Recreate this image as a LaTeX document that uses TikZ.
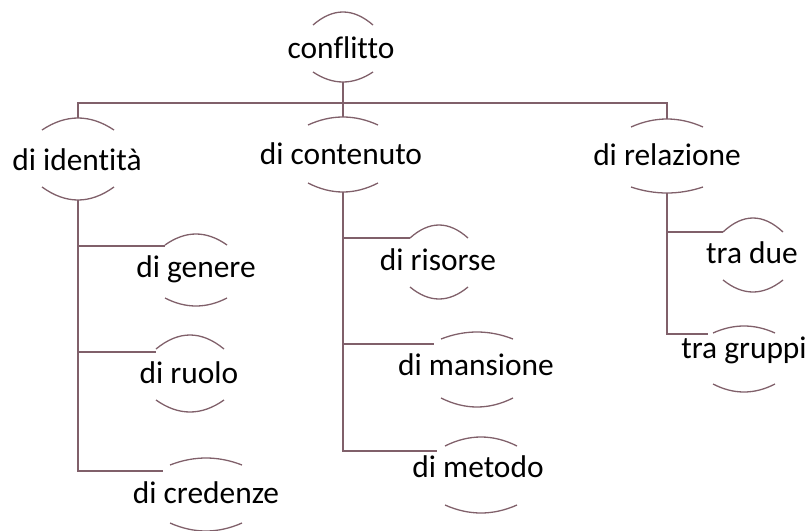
\documentclass[tikz,border=0pt]{standalone}
\usepackage{fontspec}
\setmainfont{Carlito}[Ligatures=NoCommon]
\usetikzlibrary{positioning}

\definecolor{linkcol}{RGB}{128,96,106}

% one pair of arcs round a label: name, centre x, half width, top, top ends, bottom ends, bottom
\newcommand{\lens}[7]{%
	\draw[lensline] ({#2-#3},#5) .. controls ({#2-#3/3},{#5+4/3*(#4-#5)}) and ({#2+#3/3},{#5+4/3*(#4-#5)}) .. ({#2+#3},#5);
	\draw[lensline] ({#2-#3},#6) .. controls ({#2-#3/3},{#6+4/3*(#7-#6)}) and ({#2+#3/3},{#6+4/3*(#7-#6)}) .. ({#2+#3},#6);
	\coordinate (#1-top) at (#2,#4);
	\coordinate (#1-bot) at (#2,#7);
}

\begin{document}
\begin{tikzpicture}[x=1pt, y=-1pt,
	lensline/.style={line width=1.3pt, linkcol},
	link/.style={line width=1.3pt, linkcol},
	concept/.style={anchor=base, inner sep=0pt, font=\fontsize{31.4}{36}\selectfont}]
	
	\useasboundingbox (0,0) rectangle (811,530);
	
	% root
	\node[concept] (conflitto) at (341,58) {conflitto};
	\lens{conflitto}{343}{30}{12}{25}{72}{82}
	
	% first level
	\node[concept] (identita)  at (77,170)  {di identità};
	\node[concept] (contenuto) at (341,164) {di contenuto};
	\node[concept] (relazione) at (667,165) {di relazione};
	\lens{identita}{78}{36}{118}{130}{187}{200}
	\lens{contenuto}{343}{35}{117}{125}{183}{192}
	\lens{relazione}{667}{36}{119}{127}{187}{193}
	
	% second level, left
	\node[concept] (genere)   at (196,277) {di genere};
	\node[concept] (ruolo)    at (189,383) {di ruolo};
	\node[concept] (credenze) at (206,503) {di credenze};
	\lens{genere}{196}{31}{234}{245}{298}{306}
	\lens{ruolo}{190}{34}{335}{349}{400}{412}
	\lens{credenze}{206}{36}{458}{465}{523}{531}
	
	% second level, middle
	\node[concept] (risorse)  at (438,270) {di risorse};
	\node[concept] (mansione) at (476,375) {di mansione};
	\node[concept] (metodo)   at (478,477) {di metodo};
	\lens{risorse}{439}{29}{225}{238}{287}{299}
	\lens{mansione}{477}{36}{332}{339}{398}{407}
	\lens{metodo}{481}{36}{437}{446}{505}{513}
	
	% second level, right
	\node[concept] (tradue)    at (752,263) {tra due};
	\node[concept] (tragruppi) at (744,358) {tra gruppi};
	\lens{tradue}{753}{30}{218}{232}{280}{292}
	\lens{tragruppi}{744}{31}{326}{333}{384}{392}
	
	% where the branches end
	\coordinate (bus) at (343,103);
	\coordinate (genere-in)    at (165,246);
	\coordinate (ruolo-in)     at (156,352);
	\coordinate (credenze-in)  at (163,471);
	\coordinate (risorse-in)   at (410,238);
	\coordinate (mansione-in)  at (434,344);
	\coordinate (metodo-in)    at (437,451);
	\coordinate (tradue-in)    at (723,232);
	\coordinate (tragruppi-in) at (708,334);
	
	% connectors
	\draw[link] (conflitto-bot) -- (contenuto-top);
	\draw[link] (bus) -| (identita-top);
	\draw[link] (bus) -| (relazione-top);
	\draw[link] (identita-bot) |- (genere-in);
	\draw[link] (identita-bot) |- (ruolo-in);
	\draw[link] (identita-bot) |- (credenze-in);
	\draw[link] (contenuto-bot) |- (risorse-in);
	\draw[link] (contenuto-bot) |- (mansione-in);
	\draw[link] (contenuto-bot) |- (metodo-in);
	\draw[link] (relazione-bot) |- (tradue-in);
	\draw[link] (relazione-bot) |- (tragruppi-in);
	
\end{tikzpicture}
\end{document}
